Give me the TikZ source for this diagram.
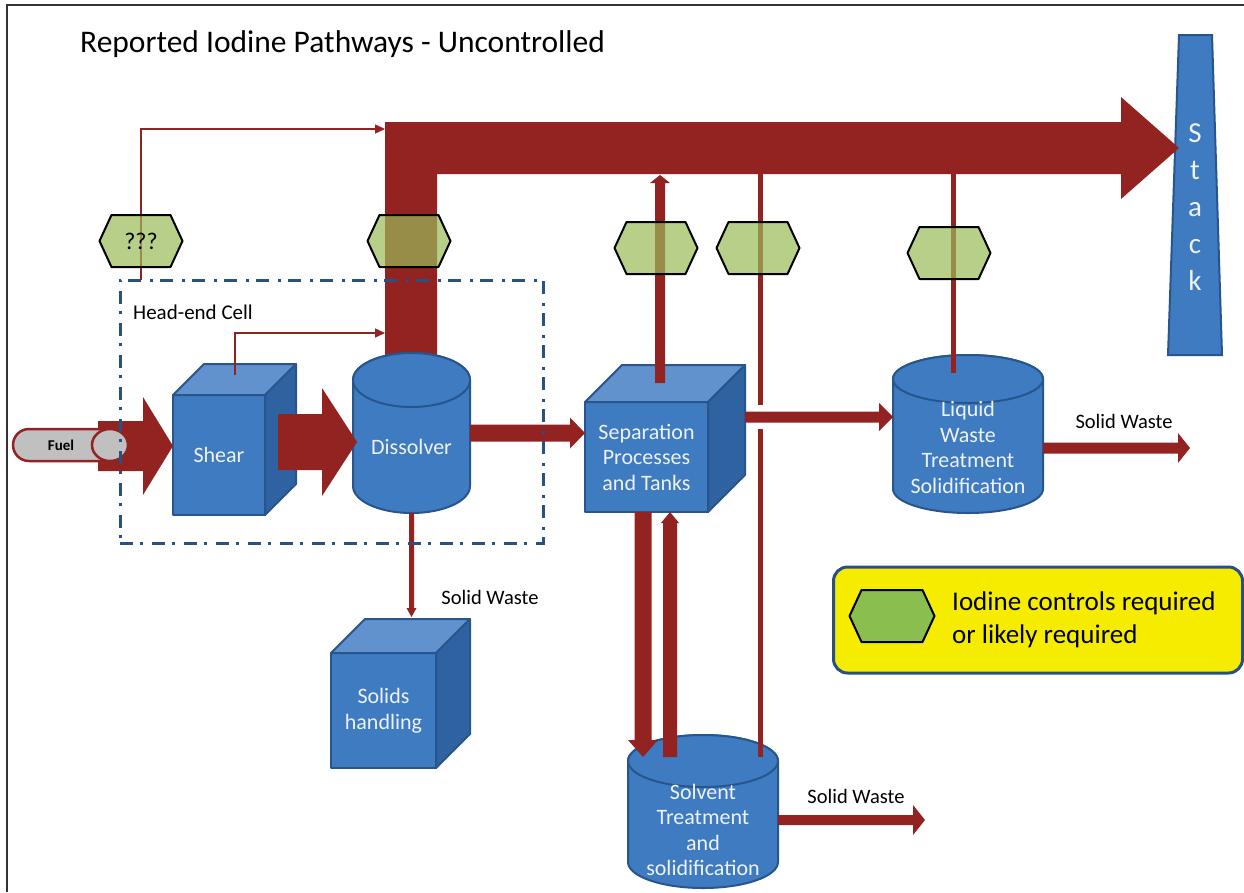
\documentclass[tikz,border=0pt]{standalone}
\usepackage{fontspec}
\setmainfont{Carlito}
\usetikzlibrary{calc,arrows.meta}
\definecolor{pipered}{RGB}{146,35,32}
\definecolor{bfront}{RGB}{62,123,193}
\definecolor{btop}{RGB}{98,146,206}
\definecolor{bright}{RGB}{47,98,160}
\definecolor{bstroke}{RGB}{40,85,140}
\definecolor{btext}{RGB}{238,242,248}
\definecolor{hexgreen}{RGB}{155,187,89}
\definecolor{lhexgreen}{RGB}{138,190,78}
\definecolor{cellblue}{RGB}{40,80,130}
\definecolor{legyellow}{RGB}{246,236,0}
\definecolor{pillgray}{RGB}{192,192,192}
\newcommand\boxfont{\fontsize{22}{25.5}\selectfont}
\newcommand\lblfont{\fontsize{20.5}{24}\selectfont}
\newcommand\titlefont{\fontsize{31.5}{36}\selectfont}
\newcommand\legfont{\fontsize{27}{33}\selectfont}
\newcommand\stackfont{\fontsize{29}{37}\selectfont}
\newcommand\barrow[5]{%
  \coordinate (bah) at ($(#2)!#4!(#1)$);
  \fill[pipe] ($(#1)!#3!90:(#2)$) -- ($(bah)!#3!90:(#2)$) -- ($(bah)!#5!90:(#2)$) -- (#2)
     -- ($(bah)!#5!-90:(#2)$) -- ($(bah)!#3!-90:(#2)$) -- ($(#1)!#3!-90:(#2)$) -- cycle;}
\newcommand\cubefaces[2]{%
  \filldraw[cubetop] (#1.north west) -- ++(#2,-#2) -- ($(#1.north east)+(#2,-#2)$) -- (#1.north east) -- cycle;
  \filldraw[cuberight] (#1.north east) -- ++(#2,-#2) -- ($(#1.south east)+(#2,-#2)$) -- (#1.south east) -- cycle;}
\newcommand\cyl[3]{%
  \filldraw[cylbody] ($(#1.north west)+(0,#3)$) -- ($(#1.south west)+(0,-#3)$)
     arc[start angle=180,end angle=0,x radius=#2,y radius=#3]
     -- ($(#1.north east)+(0,#3)$) arc[start angle=0,end angle=-180,x radius=#2,y radius=#3] -- cycle;
  \draw[cylbody] ($(#1.north)+(0,#3)$) ellipse[x radius=#2,y radius=#3];}
\newcommand\hexa[2]{%
  \filldraw[#2] (#1.west) -- ($(#1.north west)+(12,0)$) -- ($(#1.north east)+(-12,0)$) -- (#1.east)
     -- ($(#1.south east)+(-12,0)$) -- ($(#1.south west)+(12,0)$) -- cycle;}
\tikzset{
  pipe/.style={fill=pipered},
  cubefront/.style={draw=bstroke, line width=2pt, fill=bfront, text=btext, font=\boxfont, align=center, inner sep=0pt, outer sep=0pt, line join=round},
  cubetop/.style={draw=bstroke, line width=2pt, fill=btop, line join=round},
  cuberight/.style={draw=bstroke, line width=2pt, fill=bright, line join=round},
  cylbody/.style={draw=bstroke, line width=2pt, fill=bfront},
  ghost/.style={inner sep=0pt, outer sep=0pt},
  boxtext/.style={text=btext, font=\boxfont, align=center},
  hexstyle/.style={fill=hexgreen, fill opacity=0.7, draw=black, line width=2pt, line join=round},
  lhexstyle/.style={fill=lhexgreen, draw=black, line width=2pt, line join=round},
  thinarrow/.style={draw=pipered, line width=1.5pt, -{Triangle[length=10pt,width=9pt]}},
  vline/.style={draw=pipered, line width=5pt},
  lbl/.style={font=\lblfont, text=black},
  cellbox/.style={draw=cellblue, line width=3pt, dash pattern=on 13pt off 7pt on 3pt off 9pt},
}
\begin{document}
\begin{tikzpicture}[x=1pt,y=-1pt]
\useasboundingbox[fill=white] (0,0) rectangle (1244,892);
% frame
\draw[line width=1.5pt, black!80] (7,892) -- (7,5) -- (1244,5);
% title
\node[font=\titlefont, anchor=base west, inner sep=0pt] (title) at (80,52) {Reported Iodine Pathways - Uncontrolled};
% stack
\filldraw[cylbody] (1179,35) -- (1212,35) -- (1222,355) -- (1168,355) -- cycle;
\node[boxtext, font=\stackfont] (stack) at (1195,207) {S\\t\\a\\c\\k};
% main pipe
\coordinate (pipebase) at (411,380);
\coordinate (stackin) at (1179,148);
\fill[pipe] ($(pipebase)+(-26,0)$) |- ($(stackin)+(-58,-26)$) -- ++(0,-25) -- (stackin) -- ++(-58,51) -- ++(0,-25) -| ($(pipebase)+(26,0)$) -- cycle;
% units
\node[cubefront, minimum width=92pt, minimum height=120pt] (shear) at (219,455) {Shear};
\cubefaces{shear}{31}
\node[ghost, minimum width=117pt, minimum height=160pt] (diss) at (411.5,433) {};
\cyl{diss}{58.5}{27}
\node[boxtext] (disst) at (411.5,447) {Dissolver};
\node[cubefront, minimum width=123pt, minimum height=110pt] (sep) at (646.5,457) {Separation\\Processes\\and Tanks};
\cubefaces{sep}{37}
\node[cubefront, minimum width=105pt, minimum height=115pt] (solids) at (383.5,710.5) {Solids\\handling};
\cubefaces{solids}{34}
\node[ghost, minimum width=150pt, minimum height=158pt] (liq) at (968,434) {};
\cyl{liq}{75}{24}
\node[boxtext] (liqt) at (968,447.5) {Liquid\\Waste\\Treatment\\Solidification};
\node[ghost, minimum width=150pt, minimum height=153pt] (solv) at (703,811.5) {};
\cyl{solv}{75}{26}
\node[boxtext] (solvt) at (703,830) {Solvent\\Treatment\\and\\solidification};
% fuel
\node[ghost, minimum width=115pt, minimum height=32pt] (fuel) at (70.5,445) {};
\coordinate (f0) at ($(fuel.east)+(-30,1)$);
\coordinate (f1) at (shear.west |- f0);
\barrow{f0}{f1}{25pt}{30pt}{49pt}
\filldraw[fill=pillgray, draw=pipered, line width=2.5pt] ($(fuel.north east)+(-18,0)$) -- ($(fuel.north west)+(16,0)$)
   arc[start angle=-90,end angle=-270,x radius=16,y radius=16] -- ($(fuel.south east)+(-18,0)$) -- cycle;
\filldraw[fill=pillgray, draw=pipered, line width=2.5pt] ($(fuel.east)+(-18,0)$) ellipse[x radius=18,y radius=16];
\node[font=\bfseries\fontsize{15}{18}\selectfont] (fuelt) at (61,445) {Fuel};
% shear -> dissolver
\coordinate (sd0) at ($(shear.east)+(13,-13)$);
\coordinate (sd1) at ($(diss.west |- sd0)+(4,0)$);
\barrow{sd0}{sd1}{28pt}{35pt}{54pt}
\coordinate (st0) at ($(shear.north)+(16,-20)$);
\coordinate (st1) at ($(pipebase)+(-26,-47)$);
\draw[thinarrow] (st0) |- (st1);
% dissolver -> separation
\coordinate (ds0) at (diss.east);
\coordinate (ds1) at (sep.west |- ds0);
\barrow{ds0}{ds1}{8.5pt}{15pt}{15.5pt}
% dissolver -> solids
\coordinate (dso0) at (diss.south);
\coordinate (dso1) at ($(solids.north)+(28,-36)$);
\barrow{dso0}{dso1}{2.5pt}{9pt}{5pt}
% separation up to pipe, off-gas lines
\coordinate (su0) at ($(sep.north)+(13.5,-19)$);
\coordinate (su1) at (660,175);
\barrow{su0}{su1}{5pt}{8pt}{10pt}
\coordinate (v1a) at (760,172);
\coordinate (v1b) at (760,757);
\draw[vline] (v1a) -- (v1b);
\coordinate (v2a) at (953,172);
\coordinate (v2b) at (953,373);
\draw[vline] (v2a) -- (v2b);
\fill[white] (755,405) rectangle (765,429);
% separation -> liquid
\coordinate (sl0) at ($(sep.east)+(37,-40)$);
\coordinate (sl1) at (liq.west |- sl0);
\barrow{sl0}{sl1}{5.5pt}{14pt}{14pt}
% separation <-> solvent
\coordinate (sv0) at ($(sep.south)+(-3.5,0)$);
\coordinate (sv1) at (643,757);
\barrow{sv0}{sv1}{8.5pt}{17pt}{15pt}
\coordinate (vs0) at (670,757);
\coordinate (vs1) at ($(sep.south)+(23.5,0)$);
\barrow{vs0}{vs1}{7pt}{11pt}{9pt}
% solid waste outputs
\coordinate (lw0) at ($(liq.east)+(0,14)$);
\coordinate (lw1) at (1190,448);
\barrow{lw0}{lw1}{5.5pt}{12pt}{15pt}
\coordinate (sw0) at ($(solv.east)+(0,8.5)$);
\coordinate (sw1) at (925,820);
\barrow{sw0}{sw1}{5pt}{12pt}{15pt}
% head-end cell
\node[cellbox, minimum width=423pt, minimum height=263pt, anchor=north west, inner sep=0pt, outer sep=0pt] (cell) at (120,280) {};
\node[lbl, font=\fontsize{21}{25}\selectfont, anchor=base west, inner sep=0pt] (celllbl) at (133,319) {Head-end Cell};
% hexagons
\node[ghost, minimum width=83pt, minimum height=52pt] (hq) at (141,241) {};
\coordinate (q0) at (hq |- cell.north);
\coordinate (q1) at (385,129);
\draw[thinarrow] (q0) |- (q1);
\hexa{hq}{hexstyle}
\node[font=\fontsize{24}{28}\selectfont] (hqt) at (hq) {???};
\node[ghost, minimum width=83pt, minimum height=52pt] (hd) at (409,241) {};
\hexa{hd}{hexstyle}
\node[ghost, minimum width=83pt, minimum height=52pt] (hs1) at (656,248) {};
\hexa{hs1}{hexstyle}
\node[ghost, minimum width=83pt, minimum height=52pt] (hs2) at (758,248) {};
\hexa{hs2}{hexstyle}
\node[ghost, minimum width=83pt, minimum height=52pt] (hl) at (949,253) {};
\hexa{hl}{hexstyle}
% labels
\node[lbl] (swa) at (490,597) {Solid Waste};
\node[lbl] (swb) at (1124,421) {Solid Waste};
\node[lbl] (swc) at (856,796) {Solid Waste};
% legend
\node[draw=cellblue, line width=3pt, fill=legyellow, rounded corners=14pt, minimum width=409pt, minimum height=106pt] (legend) at (1038,620) {};
\node[ghost, minimum width=85pt, minimum height=52pt] (lhex) at (892,616) {};
\hexa{lhex}{lhexstyle}
\node[font=\legfont, anchor=west, align=left, inner sep=0pt] (legtext) at (952,620) {Iodine controls required\\or likely required};
\end{tikzpicture}
\end{document}
